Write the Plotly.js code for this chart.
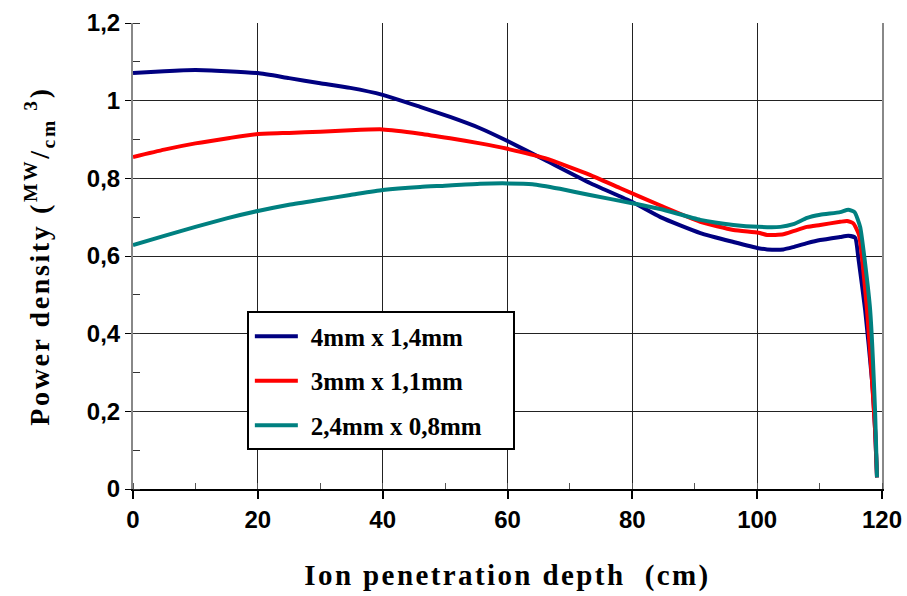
<!DOCTYPE html>
<html>
<head>
<meta charset="utf-8">
<script src="https://cdn.plot.ly/plotly-3.0.1.min.js"></script>
<style>html,body{margin:0;padding:0;background:#fff;}#chart{width:907px;height:596px;}</style>
</head>
<body>
<div id="chart"></div>
<script>
var seriesNames = ["4mm x 1,4mm", "3mm x 1,1mm", "2,4mm x 0,8mm"];
var seriesColors = ["#000080", "#ff0000", "#008080"];

var depthBlue = [0, 5, 10, 15, 20, 25, 30, 34.8, 40, 46, 50.8, 55.6, 60, 66, 73.2, 80, 84.5, 90.9, 96.2, 100.2, 101.6, 104.2, 105.8, 108, 110.1, 113.3, 114.6, 115.7, 116.2, 117.3, 118.4, 118.9, 119.2];
var powerBlue = [1.071, 1.076, 1.079, 1.076, 1.071, 1.058, 1.045, 1.033, 1.015, 0.984, 0.958, 0.929, 0.896, 0.847, 0.788, 0.739, 0.70, 0.659, 0.636, 0.62, 0.617, 0.617, 0.623, 0.633, 0.641, 0.649, 0.652, 0.647, 0.597, 0.461, 0.28, 0.15, 0.03];

var depthRed = [0, 5, 10, 15.5, 20, 25, 30, 34.8, 40, 46, 50.8, 55.6, 60, 66, 73.2, 78, 84.5, 90.9, 96.2, 100.2, 101.6, 104.2, 105.8, 108, 110.1, 113.3, 114.4, 115.4, 116.3, 117.6, 118.4, 118.9, 119.2];
var powerRed = [0.855, 0.874, 0.89, 0.904, 0.914, 0.917, 0.92, 0.924, 0.926, 0.915, 0.903, 0.89, 0.876, 0.852, 0.809, 0.775, 0.73, 0.688, 0.667, 0.66, 0.654, 0.656, 0.664, 0.675, 0.68, 0.688, 0.69, 0.684, 0.655, 0.461, 0.28, 0.15, 0.03];

var depthTeal = [0, 5, 10, 15, 20, 25, 30, 34.8, 40, 46, 50, 55.6, 60, 64, 68.4, 73.2, 80, 84.5, 90.9, 96.2, 100.2, 103.7, 105.8, 108, 110.1, 113.3, 114.6, 115.6, 116.5, 117.3, 118.1, 118.9, 119.2];
var powerTeal = [0.628, 0.652, 0.675, 0.697, 0.716, 0.732, 0.745, 0.757, 0.77, 0.778, 0.781, 0.786, 0.787, 0.785, 0.773, 0.757, 0.736, 0.721, 0.693, 0.68, 0.675, 0.675, 0.682, 0.698, 0.706, 0.713, 0.719, 0.713, 0.675, 0.58, 0.461, 0.196, 0.03];

var xTicks = [0, 20, 40, 60, 80, 100, 120];
var yTicks = [0, 0.2, 0.4, 0.6, 0.8, 1.0, 1.2];
var yTickText = ["0", "0,2", "0,4", "0,6", "0,8", "1", "1,2"];

var xs = [depthBlue, depthRed, depthTeal];
var ys = [powerBlue, powerRed, powerTeal];
var traces = [];
for (var i = 0; i < 3; i++) {
  traces.push({
    x: xs[i], y: ys[i], type: "scatter", mode: "lines", name: seriesNames[i],
    legendgroup: "g" + i,
    line: {color: seriesColors[i], width: 4, shape: "spline", smoothing: 0.5}
  });
}

var serif = "Liberation Serif, Times New Roman, serif";
var sans = "Liberation Sans, Arial, sans-serif";

var layout = {
  width: 907, height: 596,
  margin: {l: 133, r: 25, t: 23, b: 107},
  paper_bgcolor: "#fff", plot_bgcolor: "#fff",
  separators: ", ",
  showlegend: true,
  legend: {
    x: 0.152, y: 0.381, xanchor: "left", yanchor: "top",
    bgcolor: "#fff", bordercolor: "#000", borderwidth: 2,
    font: {family: serif, size: 25, color: "#000", weight: "bold"},
    tracegroupgap: 9, itemwidth: 52
  },
  xaxis: {
    range: [0, 120], tickvals: xTicks, ticktext: xTicks.map(String),
    showgrid: true, gridcolor: "#222", gridwidth: 1,
    showline: true, linecolor: "#000", linewidth: 2,
    ticks: "outside", ticklen: 8, tickcolor: "#000", tickwidth: 2,
    minor: {dtick: 10, ticks: "inside", ticklen: 6, tickcolor: "#555", tickwidth: 1, showgrid: false},
    zeroline: false,
    tickfont: {family: sans, size: 24, color: "#000", weight: "bold"},
    title: {text: "Ion penetration depth  (cm)", standoff: 33,
      font: {family: serif, size: 29, color: "#000", weight: "bold"}}
  },
  yaxis: {
    range: [0, 1.2], tickvals: yTicks, ticktext: yTickText,
    showgrid: true, gridcolor: "#222", gridwidth: 1,
    showline: true, linecolor: "#888", linewidth: 2, mirror: true,
    ticks: "outside", ticklen: 6, tickcolor: "#000", tickwidth: 1,
    minor: {dtick: 0.1, ticks: "inside", ticklen: 7, tickcolor: "#333", tickwidth: 1, showgrid: false},
    zeroline: false,
    tickfont: {family: sans, size: 24, color: "#000", weight: "bold"},
    title: {text: "Power density (<sup>MW</sup>/<sub>cm</sub><sup> 3</sup>)", standoff: 29,
      font: {family: serif, size: 28, color: "#000", weight: "bold"}}
  }
};

Plotly.newPlot("chart", traces, layout, {displayModeBar: false, staticPlot: true}).then(function (gd) {
  var xt = gd.querySelector(".xtitle");
  if (xt) xt.style.letterSpacing = "2.4px";
  var yt = gd.querySelector(".ytitle");
  if (yt) yt.style.letterSpacing = "2.6px";
  var bg = gd.querySelector(".legend rect.bg");
  if (bg) {
    var w = parseFloat(bg.getAttribute("width"));
    bg.setAttribute("width", String(w + 26));
  }
  var lines = gd.querySelectorAll(".legend .legendlines path");
  lines.forEach(function (p) { p.setAttribute("d", "M6,0h43"); });
});
</script>
</body>
</html>
